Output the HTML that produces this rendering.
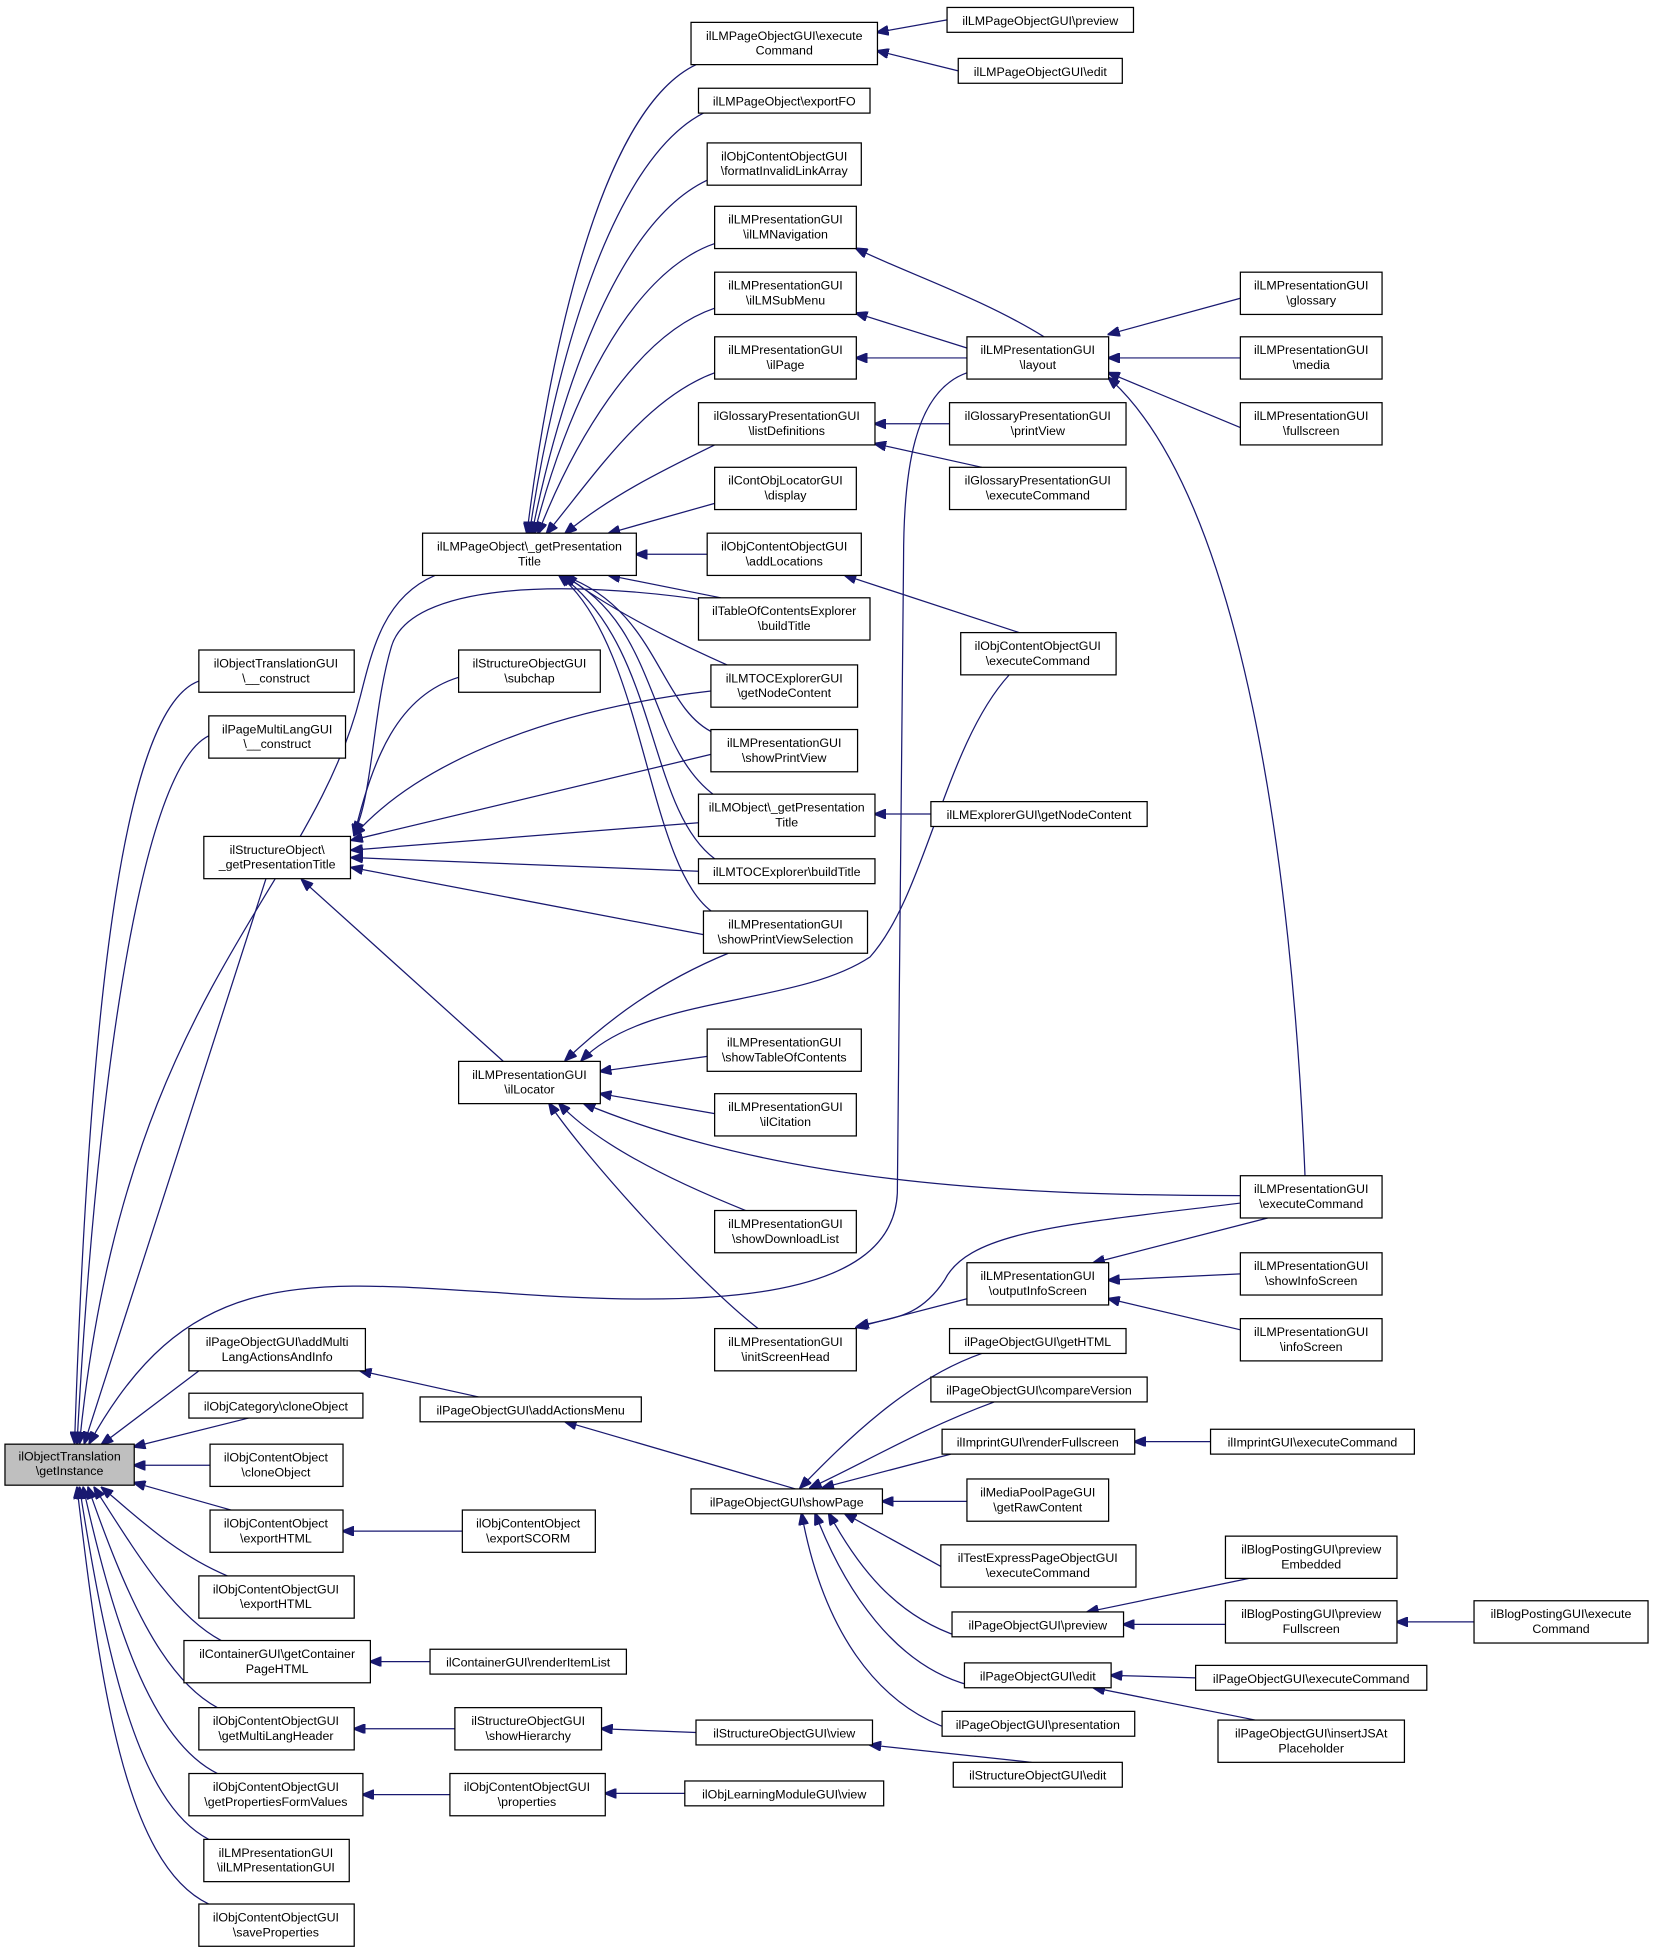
<!DOCTYPE html>
<html><head><meta charset="utf-8"><style>
html,body{margin:0;padding:0;background:#fff;}
svg{display:block;}
text{font-family:"Liberation Sans",sans-serif;font-size:10px;fill:#000;text-anchor:middle;}
rect{fill:#fff;stroke:#000;stroke-width:1;}
path{fill:none;stroke:#191970;stroke-width:1;}
</style></head><body>
<svg width="1653" height="1950" viewBox="0 0 1330 1569" preserveAspectRatio="none" xmlns="http://www.w3.org/2000/svg">
<defs><marker id="a" markerWidth="10" markerHeight="8" refX="9" refY="4" orient="auto" markerUnits="userSpaceOnUse"><path d="M0,0L10,4L0,8z" style="fill:#191970;stroke:#191970"/></marker></defs>
<g marker-end="url(#a)">
<!-- to getInstance -->
<path d="M160,548 C100,570 72,800 60,1161"/>
<path d="M168,592 C110,620 76,900 62,1161"/>
<path d="M214,707 L68,1161"/>
<path d="M350,463 C310,480 300,520 290,560 C250,720 100,800 64,1161"/>
<path d="M778,300 C735,315 727,380 727,450 L722,960 C718,1050 560,1052 400,1040 C240,1030 150,1020 72,1161"/>
<path d="M160,1103 L82,1162"/>
<path d="M200,1141 L108,1164"/>
<path d="M169,1179 L108,1179"/>
<path d="M186,1215 L108,1193"/>
<path d="M183,1268 C140,1250 110,1220 82,1197"/>
<path d="M178,1320 C140,1300 110,1250 76,1197"/>
<path d="M175,1374 C130,1350 100,1280 71,1197"/>
<path d="M175,1427 C120,1400 90,1300 67,1197"/>
<path d="M168,1480 C110,1450 85,1330 64,1197"/>
<path d="M168,1532 C100,1500 80,1350 62,1197"/>
<!-- to ilLocator -->
<path d="M586,767 C530,790 490,820 455,853"/>
<path d="M812,543 C760,600 745,720 700,770 C640,810 520,800 468,853"/>
<path d="M569,850 L483,862"/>
<path d="M575,896 L483,880"/>
<path d="M998,962 C800,962 620,950 470,888"/>
<path d="M600,974 C540,950 480,920 450,888"/>
<path d="M610,1069 C560,1030 470,930 442,888"/>
<!-- to StructureObject _getPresentationTitle -->
<path d="M405,854 L243,708"/>
<path d="M369,545 C320,560 300,610 285,672"/>
<path d="M572,556 C450,570 340,610 285,672"/>
<path d="M572,607 L283,676"/>
<path d="M562,662 L283,684"/>
<path d="M562,701 L283,690"/>
<path d="M566,752 L283,698"/>
<path d="M575,484 C450,465 330,470 315,520 C300,570 300,640 285,670"/>
<!-- to LMPageObject _getPresentationTitle -->
<path d="M560,52 C480,90 440,300 424,429"/>
<path d="M566,91 C490,130 445,300 426,429"/>
<path d="M569,145 C495,180 450,320 428,429"/>
<path d="M575,196 C505,220 455,330 430,429"/>
<path d="M575,248 C510,270 460,360 433,429"/>
<path d="M575,300 C520,320 480,380 440,429"/>
<path d="M575,358 C530,380 490,400 455,429"/>
<path d="M575,405 L490,429"/>
<path d="M569,446 L512,446"/>
<path d="M580,481 L490,463"/>
<path d="M585,535 C540,515 490,490 455,463"/>
<path d="M575,590 C530,570 530,490 453,463"/>
<path d="M575,640 C520,600 530,500 452,463"/>
<path d="M575,691 C520,650 530,520 451,463"/>
<path d="M575,735 C520,700 520,520 450,463"/>
<!-- execute Command -->
<path d="M762,16 L706,26"/>
<path d="M771,57 L706,41"/>
<!-- layout -->
<path d="M840,271 C790,240 730,220 689,200"/>
<path d="M778,280 L689,252"/>
<path d="M778,288 L689,288"/>
<path d="M998,240 L892,269"/>
<path d="M998,288 L892,288"/>
<path d="M998,344 L892,300"/>
<path d="M1050,946 C1040,700 1000,400 892,304"/>
<!-- listDefinitions -->
<path d="M764,341 L704,341"/>
<path d="M790,376 L704,357"/>
<path d="M820,509 L680,463"/>
<path d="M749,655 L704,655"/>
<!-- outputInfoScreen / initScreenHead -->
<path d="M1020,980 L880,1016"/>
<path d="M998,1025 L892,1030"/>
<path d="M998,1070 L892,1045"/>
<path d="M778,1045 L689,1068"/>
<path d="M998,968 C860,985 780,990 760,1030 C740,1060 720,1060 690,1067"/>
<!-- addActionsMenu / showPage -->
<path d="M385,1124 L290,1103"/>
<path d="M640,1198 L455,1144"/>
<path d="M790,1089 C730,1110 680,1160 644,1197"/>
<path d="M800,1128 C740,1150 690,1180 652,1197"/>
<path d="M765,1170 L662,1197"/>
<path d="M778,1208 L710,1208"/>
<path d="M760,1262 L680,1218"/>
<path d="M772,1317 C720,1300 690,1260 667,1218"/>
<path d="M780,1356 C720,1340 680,1280 656,1218"/>
<path d="M785,1397 C700,1380 660,1300 645,1218"/>
<path d="M974,1160 L913,1160"/>
<path d="M1005,1270 L875,1297"/>
<path d="M986,1307 L904,1307"/>
<path d="M1186,1305 L1124,1305"/>
<path d="M962,1350 L894,1348"/>
<path d="M1010,1384 L880,1358"/>
<path d="M372,1232 L276,1232"/>
<path d="M346,1337 L298,1337"/>
<path d="M366,1391 L285,1391"/>
<path d="M560,1394 L484,1391"/>
<path d="M830,1418 L700,1404"/>
<path d="M362,1444 L292,1444"/>
<path d="M551,1443 L487,1443"/>
</g>
<!-- nodes -->
<rect x="4" y="1162" width="104" height="33" style="fill:#bfbfbf"/><text x="56" y="1175">ilObjectTranslation</text><text x="56" y="1187">\getInstance</text>
<rect x="160" y="523" width="125" height="34"/><text x="222" y="537">ilObjectTranslationGUI</text><text x="222" y="549">\__construct</text>
<rect x="168" y="576" width="110" height="34"/><text x="223" y="590">ilPageMultiLangGUI</text><text x="223" y="602">\__construct</text>
<rect x="164" y="673" width="118" height="34"/><text x="223" y="687">ilStructureObject\</text><text x="223" y="699">_getPresentationTitle</text>
<rect x="152" y="1069" width="142" height="34"/><text x="223" y="1083">ilPageObjectGUI\addMulti</text><text x="223" y="1095">LangActionsAndInfo</text>
<rect x="152" y="1121" width="140" height="20"/><text x="222" y="1135">ilObjCategory\cloneObject</text>
<rect x="169" y="1162" width="107" height="34"/><text x="222" y="1176">ilObjContentObject</text><text x="222" y="1188">\cloneObject</text>
<rect x="169" y="1215" width="107" height="34"/><text x="222" y="1229">ilObjContentObject</text><text x="222" y="1241">\exportHTML</text>
<rect x="160" y="1268" width="125" height="34"/><text x="222" y="1282">ilObjContentObjectGUI</text><text x="222" y="1294">\exportHTML</text>
<rect x="148" y="1320" width="150" height="34"/><text x="223" y="1334">ilContainerGUI\getContainer</text><text x="223" y="1346">PageHTML</text>
<rect x="160" y="1374" width="125" height="34"/><text x="222" y="1388">ilObjContentObjectGUI</text><text x="222" y="1400">\getMultiLangHeader</text>
<rect x="152" y="1427" width="140" height="34"/><text x="222" y="1441">ilObjContentObjectGUI</text><text x="222" y="1453">\getPropertiesFormValues</text>
<rect x="164" y="1480" width="117" height="34"/><text x="222" y="1494">ilLMPresentationGUI</text><text x="222" y="1506">\ilLMPresentationGUI</text>
<rect x="160" y="1532" width="125" height="34"/><text x="222" y="1546">ilObjContentObjectGUI</text><text x="222" y="1558">\saveProperties</text>
<rect x="340" y="429" width="172" height="34"/><text x="426" y="443">ilLMPageObject\_getPresentation</text><text x="426" y="455">Title</text>
<rect x="369" y="523" width="114" height="34"/><text x="426" y="537">ilStructureObjectGUI</text><text x="426" y="549">\subchap</text>
<rect x="369" y="854" width="114" height="34"/><text x="426" y="868">ilLMPresentationGUI</text><text x="426" y="880">\ilLocator</text>
<rect x="338" y="1124" width="178" height="20"/><text x="427" y="1138">ilPageObjectGUI\addActionsMenu</text>
<rect x="372" y="1215" width="107" height="34"/><text x="425" y="1229">ilObjContentObject</text><text x="425" y="1241">\exportSCORM</text>
<rect x="346" y="1327" width="158" height="20"/><text x="425" y="1341">ilContainerGUI\renderItemList</text>
<rect x="366" y="1374" width="118" height="34"/><text x="425" y="1388">ilStructureObjectGUI</text><text x="425" y="1400">\showHierarchy</text>
<rect x="362" y="1427" width="125" height="34"/><text x="424" y="1441">ilObjContentObjectGUI</text><text x="424" y="1453">\properties</text>
<rect x="556" y="18" width="150" height="34"/><text x="631" y="32">ilLMPageObjectGUI\execute</text><text x="631" y="44">Command</text>
<rect x="562" y="71" width="138" height="20"/><text x="631" y="85">ilLMPageObject\exportFO</text>
<rect x="569" y="115" width="124" height="34"/><text x="631" y="129">ilObjContentObjectGUI</text><text x="631" y="141">\formatInvalidLinkArray</text>
<rect x="575" y="166" width="114" height="34"/><text x="632" y="180">ilLMPresentationGUI</text><text x="632" y="192">\ilLMNavigation</text>
<rect x="575" y="219" width="114" height="34"/><text x="632" y="233">ilLMPresentationGUI</text><text x="632" y="245">\ilLMSubMenu</text>
<rect x="575" y="271" width="114" height="34"/><text x="632" y="285">ilLMPresentationGUI</text><text x="632" y="297">\ilPage</text>
<rect x="562" y="324" width="142" height="34"/><text x="633" y="338">ilGlossaryPresentationGUI</text><text x="633" y="350">\listDefinitions</text>
<rect x="575" y="376" width="114" height="34"/><text x="632" y="390">ilContObjLocatorGUI</text><text x="632" y="402">\display</text>
<rect x="569" y="429" width="124" height="34"/><text x="631" y="443">ilObjContentObjectGUI</text><text x="631" y="455">\addLocations</text>
<rect x="562" y="481" width="138" height="34"/><text x="631" y="495">ilTableOfContentsExplorer</text><text x="631" y="507">\buildTitle</text>
<rect x="572" y="535" width="118" height="34"/><text x="631" y="549">ilLMTOCExplorerGUI</text><text x="631" y="561">\getNodeContent</text>
<rect x="572" y="587" width="118" height="34"/><text x="631" y="601">ilLMPresentationGUI</text><text x="631" y="613">\showPrintView</text>
<rect x="562" y="639" width="142" height="34"/><text x="633" y="653">ilLMObject\_getPresentation</text><text x="633" y="665">Title</text>
<rect x="562" y="691" width="142" height="20"/><text x="633" y="705">ilLMTOCExplorer\buildTitle</text>
<rect x="566" y="733" width="132" height="34"/><text x="632" y="747">ilLMPresentationGUI</text><text x="632" y="759">\showPrintViewSelection</text>
<rect x="569" y="828" width="124" height="34"/><text x="631" y="842">ilLMPresentationGUI</text><text x="631" y="854">\showTableOfContents</text>
<rect x="575" y="880" width="114" height="34"/><text x="632" y="894">ilLMPresentationGUI</text><text x="632" y="906">\ilCitation</text>
<rect x="575" y="974" width="114" height="34"/><text x="632" y="988">ilLMPresentationGUI</text><text x="632" y="1000">\showDownloadList</text>
<rect x="575" y="1069" width="114" height="34"/><text x="632" y="1083">ilLMPresentationGUI</text><text x="632" y="1095">\initScreenHead</text>
<rect x="556" y="1198" width="154" height="20"/><text x="633" y="1212">ilPageObjectGUI\showPage</text>
<rect x="762" y="6" width="150" height="20"/><text x="837" y="20">ilLMPageObjectGUI\preview</text>
<rect x="771" y="47" width="132" height="20"/><text x="837" y="61">ilLMPageObjectGUI\edit</text>
<rect x="778" y="271" width="114" height="34"/><text x="835" y="285">ilLMPresentationGUI</text><text x="835" y="297">\layout</text>
<rect x="764" y="324" width="142" height="34"/><text x="835" y="338">ilGlossaryPresentationGUI</text><text x="835" y="350">\printView</text>
<rect x="764" y="376" width="142" height="34"/><text x="835" y="390">ilGlossaryPresentationGUI</text><text x="835" y="402">\executeCommand</text>
<rect x="773" y="509" width="125" height="34"/><text x="835" y="523">ilObjContentObjectGUI</text><text x="835" y="535">\executeCommand</text>
<rect x="749" y="645" width="174" height="20"/><text x="836" y="659">ilLMExplorerGUI\getNodeContent</text>
<rect x="778" y="1016" width="114" height="34"/><text x="835" y="1030">ilLMPresentationGUI</text><text x="835" y="1042">\outputInfoScreen</text>
<rect x="764" y="1069" width="142" height="20"/><text x="835" y="1083">ilPageObjectGUI\getHTML</text>
<rect x="749" y="1108" width="174" height="20"/><text x="836" y="1122">ilPageObjectGUI\compareVersion</text>
<rect x="758" y="1150" width="155" height="20"/><text x="835" y="1164">ilImprintGUI\renderFullscreen</text>
<rect x="778" y="1190" width="114" height="34"/><text x="835" y="1204">ilMediaPoolPageGUI</text><text x="835" y="1216">\getRawContent</text>
<rect x="757" y="1243" width="157" height="34"/><text x="835" y="1257">ilTestExpressPageObjectGUI</text><text x="835" y="1269">\executeCommand</text>
<rect x="766" y="1297" width="138" height="20"/><text x="835" y="1311">ilPageObjectGUI\preview</text>
<rect x="776" y="1338" width="118" height="20"/><text x="835" y="1352">ilPageObjectGUI\edit</text>
<rect x="758" y="1377" width="155" height="20"/><text x="835" y="1391">ilPageObjectGUI\presentation</text>
<rect x="560" y="1384" width="142" height="20"/><text x="631" y="1398">ilStructureObjectGUI\view</text>
<rect x="551" y="1433" width="160" height="20"/><text x="631" y="1447">ilObjLearningModuleGUI\view</text>
<rect x="767" y="1418" width="136" height="20"/><text x="835" y="1432">ilStructureObjectGUI\edit</text>
<rect x="998" y="219" width="114" height="34"/><text x="1055" y="233">ilLMPresentationGUI</text><text x="1055" y="245">\glossary</text>
<rect x="998" y="271" width="114" height="34"/><text x="1055" y="285">ilLMPresentationGUI</text><text x="1055" y="297">\media</text>
<rect x="998" y="324" width="114" height="34"/><text x="1055" y="338">ilLMPresentationGUI</text><text x="1055" y="350">\fullscreen</text>
<rect x="998" y="946" width="114" height="34"/><text x="1055" y="960">ilLMPresentationGUI</text><text x="1055" y="972">\executeCommand</text>
<rect x="998" y="1008" width="114" height="34"/><text x="1055" y="1022">ilLMPresentationGUI</text><text x="1055" y="1034">\showInfoScreen</text>
<rect x="998" y="1061" width="114" height="34"/><text x="1055" y="1075">ilLMPresentationGUI</text><text x="1055" y="1087">\infoScreen</text>
<rect x="974" y="1150" width="164" height="20"/><text x="1056" y="1164">ilImprintGUI\executeCommand</text>
<rect x="986" y="1236" width="138" height="34"/><text x="1055" y="1250">ilBlogPostingGUI\preview</text><text x="1055" y="1262">Embedded</text>
<rect x="986" y="1288" width="138" height="34"/><text x="1055" y="1302">ilBlogPostingGUI\preview</text><text x="1055" y="1314">Fullscreen</text>
<rect x="962" y="1340" width="186" height="20"/><text x="1055" y="1354">ilPageObjectGUI\executeCommand</text>
<rect x="980" y="1384" width="150" height="34"/><text x="1055" y="1398">ilPageObjectGUI\insertJSAt</text><text x="1055" y="1410">Placeholder</text>
<rect x="1186" y="1288" width="140" height="34"/><text x="1256" y="1302">ilBlogPostingGUI\execute</text><text x="1256" y="1314">Command</text>
</svg>
</body></html>
